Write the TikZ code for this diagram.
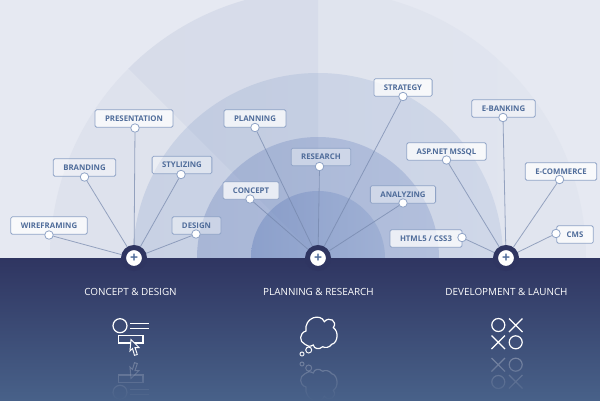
\documentclass[tikz,border=0pt]{standalone}
\usepackage{fontspec}
\setmainfont{Open Sans}
\usetikzlibrary{fadings}
\definecolor{page}{HTML}{E6E9F2}
\definecolor{bandAl}{HTML}{DEE2ED}
\definecolor{bandAr}{HTML}{E1E5EF}
\definecolor{bandBl}{HTML}{C8D1E4}
\definecolor{bandBr}{HTML}{CFD7E8}
\definecolor{bandCl}{HTML}{A8B6D6}
\definecolor{bandCr}{HTML}{B2BFDC}
\definecolor{bandDl}{HTML}{8CA0CB}
\definecolor{bandDr}{HTML}{9FB0D4}
\definecolor{wedge}{HTML}{6F86B8}
\definecolor{navy}{HTML}{2F3561}
\definecolor{panelend}{HTML}{486189}
\definecolor{panelmid}{HTML}{3F517A}
\definecolor{tagtext}{HTML}{4F6C9A}
\definecolor{tagline}{HTML}{8FA3C6}
\definecolor{wire}{HTML}{7486AB}
\tikzset{
  tag/.style={draw=tagline,line width=.8pt,rounded corners=1.5pt,fill=white,fill opacity=.75,text opacity=1,
    text=tagtext,font=\bfseries\fontsize{7.8}{9}\selectfont,inner xsep=10pt,inner ysep=0pt,yshift=-.5pt,
    text height=5.6pt,text depth=0pt,minimum height=17.5pt},
  faint/.style={fill opacity=.4},
  pin/.style={circle,draw=tagline,line width=.8pt,fill=white,inner sep=0pt,minimum size=8.5pt},
  hub/.style={circle,draw=navy,line width=5pt,fill=white,inner sep=0pt,minimum size=21pt,
    text=tagtext,font=\bfseries\fontsize{14}{14}\selectfont},
  wire/.style={draw=wire,line width=.8pt,opacity=.7},
  heading/.style={text=white,font=\fontsize{9.9}{12}\selectfont,text height=7pt,text depth=0pt},
  icon/.style={draw=white,line width=1.2pt}
}
% icons are typed at their place in the picture
\newcommand{\formicon}{
  \draw[icon] (120,325.7) circle [radius=7];
  \draw[icon] (130,323.5) -- (149,323.5) (130,328.5) -- (149,328.5);
  \draw[icon] (118.5,335.5) rectangle (143,343);
  \draw[icon,fill=panelmid,line width=1pt] (131,339.5) -- (139,347.5) -- (135,347.5) -- (137.3,354.5) -- (134.5,355.3) -- (132.5,348.5) -- (130,351) -- cycle;
}
\newcommand{\cloudicon}{
  \draw[icon] (305,344.3) .. controls (299,342) and (299,333) .. (306,331)
    .. controls (304,317) and (321,313) .. (324.3,321.7)
    .. controls (329,316) and (338,321) .. (333.3,327.7)
    .. controls (339,331) and (338,343) .. (331.7,344.3)
    .. controls (329,348) and (325,348) .. (322.7,346.7)
    .. controls (319,350) and (314,349) .. (313.3,345)
    .. controls (310,347) and (307,346.5) .. (305,344.3) -- cycle;
  \draw[icon,line width=1pt] (308.7,350) circle [radius=3] (302,354) circle [radius=2];
}
\newcommand{\xoicon}{
  \draw[icon] (498.3,325) circle [radius=6.5] (515.7,342.3) circle [radius=6.5];
  \draw[icon] (509,318.5) -- (522.5,332) (522.5,318.5) -- (509,332);
  \draw[icon] (491.5,335.5) -- (505,349) (505,335.5) -- (491.5,349);
}

\begin{document}
\begin{tikzpicture}[x=1pt,y=-1pt]
  \fill[page] (0,0) rectangle (600,400);
  \useasboundingbox (0,0) rectangle (600,400);

  % bands
  \shade[left color=bandAl,right color=bandAr] (318,258) circle [radius=268];
  \shade[left color=bandBl,right color=bandBr] (318,258) circle [radius=185];
  \shade[left color=bandCl,right color=bandCr] (318,258) circle [radius=121];
  \shade[left color=bandDl,right color=bandDr] (318,258) circle [radius=67];
  \begin{scope}
    \clip (318,258) circle [radius=268];
    \fill[wedge,opacity=.07] (318,258) -- (60,0) -- (318,0) -- cycle;
  \end{scope}

  \shade[top color=navy,bottom color=panelend] (0,258) rectangle (600,400);

  \path
  (134,258) node[hub](hubdesign) {+}
  (318,258) node[hub](hubresearch) {+}
  (506,258) node[hub](hubdevelop) {+}
  ;

  \path
  (49,225) node[tag](wireframing) {WIREFRAMING}
  (84.5,167) node[tag,faint](branding) {BRANDING}
  (134,118) node[tag](presentation) {PRESENTATION}
  (182,164.5) node[tag,faint](stylizing) {STYLIZING}
  (196.5,225) node[tag,faint](design) {DESIGN}
  (49,235) node[pin](wireframingpin) {}
  (84.5,177) node[pin](brandingpin) {}
  (135,128) node[pin](presentationpin) {}
  (181,174.5) node[pin](stylizingpin) {}
  (196,234) node[pin](designpin) {}
  ;

  \draw[wire] (wireframingpin) -- (hubdesign);
  \draw[wire] (brandingpin) -- (hubdesign);
  \draw[wire] (presentationpin) -- (hubdesign);
  \draw[wire] (stylizingpin) -- (hubdesign);
  \draw[wire] (designpin) -- (hubdesign);

  \path
  (255,118) node[tag](planning) {PLANNING}
  (321,156.5) node[tag,faint](research) {RESEARCH}
  (251,190) node[tag](concept) {CONCEPT}
  (403,87) node[tag](strategy) {STRATEGY}
  (403,194) node[tag,faint](analyzing) {ANALYZING}
  (255,127.5) node[pin](planningpin) {}
  (319.5,166.5) node[pin](researchpin) {}
  (250,199) node[pin](conceptpin) {}
  (403,96.5) node[pin](strategypin) {}
  (403,203) node[pin](analyzingpin) {}
  ;

  \draw[wire] (planningpin) -- (hubresearch);
  \draw[wire] (researchpin) -- (hubresearch);
  \draw[wire] (conceptpin) -- (hubresearch);
  \draw[wire] (strategypin) -- (hubresearch);
  \draw[wire] (analyzingpin) -- (hubresearch);

  \path
  (503.5,108) node[tag,faint](ebanking) {E-BANKING}
  (446.5,151) node[tag](aspnet) {ASP.NET MSSQL}
  (561,171) node[tag](ecommerce) {E-COMMERCE}
  (426,238) node[tag](html) {HTML5 / CSS3}
  (575,234) node[tag](cms) {CMS}
  (503,117.5) node[pin](ebankingpin) {}
  (446.5,160) node[pin](aspnetpin) {}
  (559.5,179.5) node[pin](ecommercepin) {}
  (462,237.5) node[pin](htmlpin) {}
  (556,233.5) node[pin](cmspin) {}
  ;

  \draw[wire] (ebankingpin) -- (hubdevelop);
  \draw[wire] (aspnetpin) -- (hubdevelop);
  \draw[wire] (ecommercepin) -- (hubdevelop);
  \draw[wire] (htmlpin) -- (hubdevelop);
  \draw[wire] (cmspin) -- (hubdevelop);

  \node[heading] (headdesign) at (130.5,292) {CONCEPT \& DESIGN};
  \node[heading] (headresearch) at (318.5,292) {PLANNING \& RESEARCH};
  \node[heading] (headdevelop) at (506.5,292) {DEVELOPMENT \& LAUNCH};

  \formicon
  \cloudicon
  \xoicon
  % reflections, faded out with a piece of the panel
  \begin{scope}[shift={(0,718)},yscale=-1,opacity=.35]
    \formicon
    \cloudicon
  \end{scope}
  \begin{scope}[shift={(0,707)},yscale=-1,opacity=.35]
    \xoicon
  \end{scope}
  \shade[top color=panelmid,bottom color=panelend,path fading=north] (90,348) rectangle (540,400);
\end{tikzpicture}
\end{document}
